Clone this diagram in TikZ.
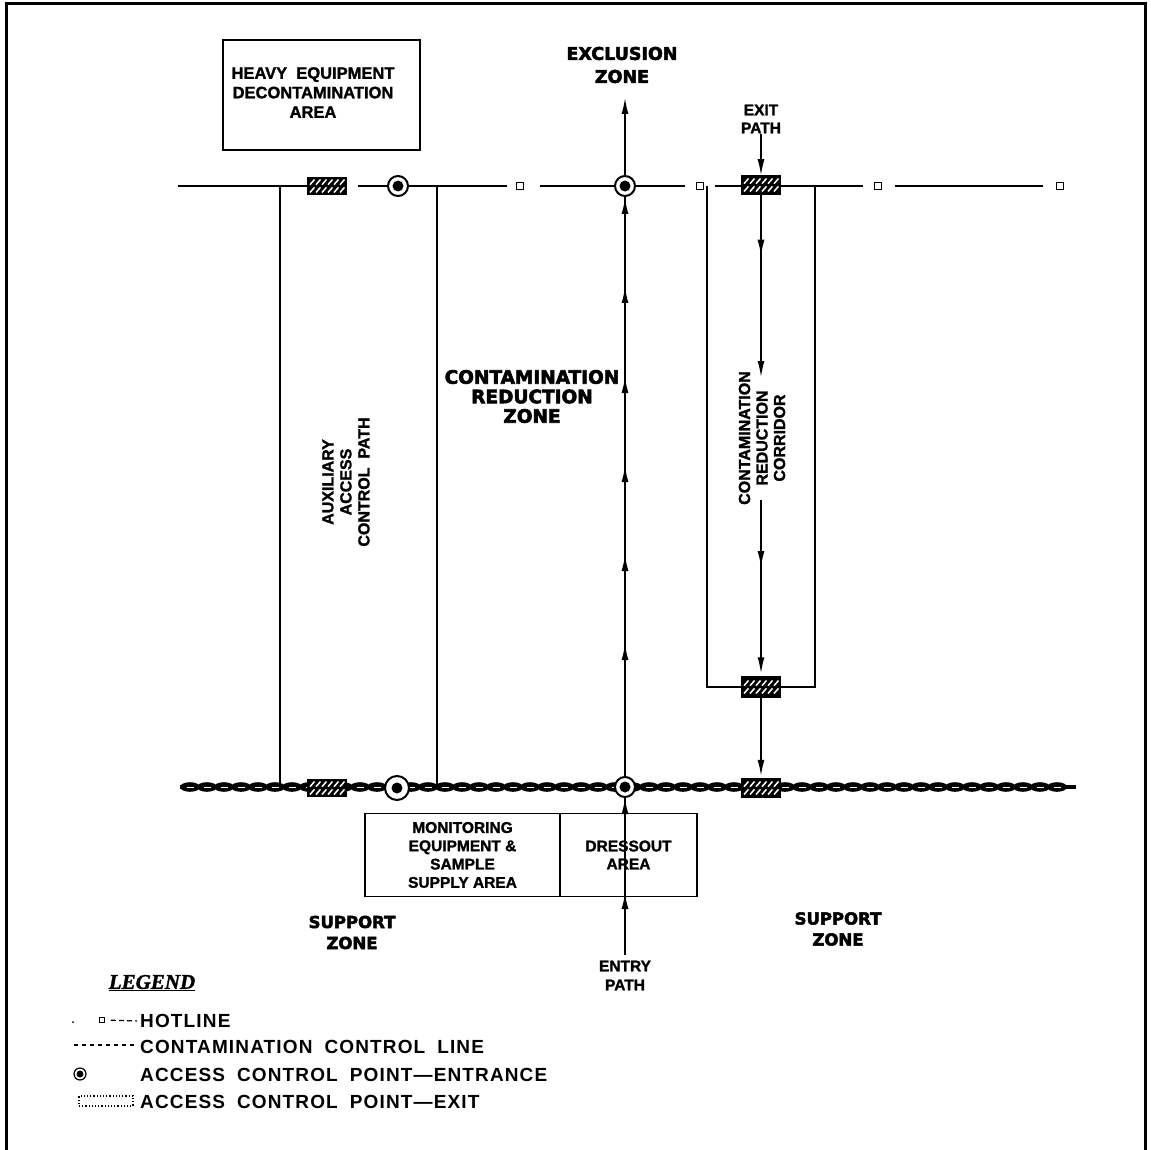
\documentclass[tikz,border=0pt]{standalone}
\usepackage{fontspec}
\setmainfont{Liberation Sans}[BoldFeatures={FakeBold=1.5}]
\newfontfamily\heavyfont{DejaVu Sans}[BoldFeatures={FakeBold=3}]
\newfontfamily\legfont{Liberation Sans}[LetterSpace=6]
\newfontfamily\titlefont{Liberation Serif}[BoldItalicFeatures={FakeBold=1.5}]
\usetikzlibrary{arrows.meta,decorations.markings}
\pgfdeclarelayer{bg}
\pgfsetlayers{bg,main}
\tikzset{
  lbl/.style={inner sep=0pt, align=center, font=\bfseries\fontsize{16}{19}\selectfont},
  hvy/.style={inner sep=0pt, align=center, font=\heavyfont\bfseries\fontsize{18.5}{19.5}\selectfont},
  leg/.style={inner sep=0pt, anchor=west, font=\legfont\bfseries\fontsize{19}{21}\selectfont},
  rect/.style={draw, line width=1.6pt},
  sq/.style={draw, line width=1.8pt, fill=white, minimum size=7pt, inner sep=0pt},
  acp/.style={circle, draw, line width=2pt, fill=white, minimum size=20pt, inner sep=0pt,
     path picture={\fill[black] (path picture bounding box.center) circle (5.5pt);}},
  acpsmall/.style={circle, draw, line width=1.2pt, fill=white, minimum size=12pt, inner sep=0pt,
     path picture={\fill[black] (path picture bounding box.center) circle (3.5pt);}},
  acx/.style={draw, line width=1.5pt, fill=black, minimum width=38pt, minimum height=17pt, inner sep=0pt,
     path picture={\begin{scope}[shift={(path picture bounding box.center)}]
        \foreach \i in {-17,-11,...,15}{\draw[white,line width=1.5pt] (\i,-1.3) -- ++(4.5,-5.2); \draw[white,line width=1.5pt] (\i,6.5) -- ++(4.5,-5.2);}
        \end{scope}}},
  hot/.style={line width=2.2pt},
  vline/.style={line width=1.4pt},
  arrowend/.style={-{Latex[length=16pt,width=7pt]}},
}
\begin{document}
\begin{tikzpicture}[x=1pt,y=-1pt]
\useasboundingbox (0,0) rectangle (1151,1150);
\draw[line width=3pt] (6,1150) -- (6,4) -- (1145,4) -- (1145,1150);

% boxes and labels
\node[rect, minimum width=197pt, minimum height=110pt] (hed) at (321.5,95) {};
\node[lbl, font=\bfseries\fontsize{16.5}{19.5}\selectfont] (hedt) at (313,92.5) {HEAVY\ \ EQUIPMENT\\DECONTAMINATION\\AREA};
\node[hvy, font=\heavyfont\bfseries\fontsize{17.5}{23}\selectfont] (excl) at (622,65) {EXCLUSION\\ZONE};
\node[lbl, font=\bfseries\fontsize{15.5}{18}\selectfont] (exit) at (761,119) {EXIT\\PATH};
\node[hvy] (crz) at (532,396.5) {CONTAMINATION\\REDUCTION\\ZONE};
\node[lbl, rotate=90, font=\bfseries\fontsize{16}{17.5}\selectfont] (corr) at (762,438) {CONTAMINATION\\REDUCTION\\CORRIDOR};
\node[lbl, rotate=90, font=\bfseries\fontsize{16}{18}\selectfont] (aux) at (346,482) {AUXILIARY\\ACCESS\\CONTROL\ \ PATH};
\node[rect, lbl, font=\bfseries\fontsize{15.5}{18.3}\selectfont, minimum width=195pt, minimum height=83pt] (mon) at (462.5,855) {MONITORING\\EQUIPMENT\ \&\\SAMPLE\\SUPPLY AREA};
\node[rect, lbl, font=\bfseries\fontsize{15.5}{18}\selectfont, minimum width=137pt, minimum height=83pt] (dress) at (628.5,855) {DRESSOUT\\AREA};
\node[hvy, font=\heavyfont\bfseries\fontsize{16.5}{21}\selectfont] (supL) at (352,932.5) {SUPPORT\\ZONE};
\node[hvy, font=\heavyfont\bfseries\fontsize{16.5}{21}\selectfont] (supR) at (838,929) {SUPPORT\\ZONE};
\node[lbl, font=\bfseries\fontsize{15.5}{19}\selectfont] (entry) at (625,975.5) {ENTRY\\PATH};

% hotline and control points
\node[acx] (x1) at (327,186) {};
\node[acp] (a1) at (398,186) {};
\node[sq] (s1) at (520,186) {};
\node[acp] (a2) at (625,186) {};
\node[sq] (s2) at (700,186) {};
\node[acx, minimum height=18pt] (x2) at (761,185) {};
\node[sq] (s3) at (878,186) {};
\node[sq] (s4) at (1060,186) {};
\node[acx, minimum height=20pt] (x3) at (761,687) {};
\node[acx, minimum height=19pt] (x4) at (761,788) {};
\node[acx] (x5) at (327,788) {};
\node[acp, minimum size=24pt] (a3) at (397,788) {};
\node[acp] (a4) at (625,787) {};

% legend
\node[inner sep=0pt, font=\titlefont\bfseries\itshape\fontsize{21}{23}\selectfont] (legt) at (152,983) {\underline{LEGEND}};
\node[leg] (l1) at (140,1021) {HOTLINE};
\node[leg] (l2) at (140,1047) {CONTAMINATION\hspace{12pt}CONTROL\hspace{12pt}LINE};
\node[leg] (l3) at (140,1075) {ACCESS\hspace{12pt}CONTROL\hspace{12pt}POINT—ENTRANCE};
\node[leg] (l4) at (140,1102) {ACCESS\hspace{12pt}CONTROL\hspace{12pt}POINT—EXIT};
\node[sq, minimum size=5pt, line width=1pt] (ls1) at (102,1020) {};
\node[acpsmall] (ls3) at (80,1074) {};
\node[draw, dotted, line width=1.2pt, minimum width=54pt, minimum height=10pt, inner sep=0pt] (ls4) at (106,1101) {};
\coordinate (ls2a) at (74,1045);
\coordinate (ls2b) at (134,1045);
\fill (73,1022) circle (1pt);
\draw[line width=1.2pt, shorten <=6pt, shorten >=3pt, dash pattern=on 5pt off 3pt] (ls1) -- (l1.west);
\draw[line width=2pt, dash pattern=on 4pt off 4pt] (ls2a) -- (ls2b);

\begin{pgfonlayer}{bg}
\coordinate (h0) at (178,186);
\draw[hot] (h0) -- (x1);
\draw[hot, shorten <=11pt, shorten >=9pt] (x1) -- (s1);
\draw[hot, shorten <=16pt, shorten >=11pt] (s1) -- (s2);
\draw[hot, shorten <=11pt, shorten >=11pt] (s2) -- (s3);
\draw[hot, shorten <=13pt, shorten >=13pt] (s3) -- (s4);
% auxiliary path
\coordinate (aLt) at (280,186); \coordinate (aLb) at (280,787);
\coordinate (aRt) at (437,186); \coordinate (aRb) at (437,787);
\draw[vline] (aLt) -- (aLb);
\draw[vline] (aRt) -- (aRb);
% corridor
\coordinate (cTL) at (707,186); \coordinate (cBL) at (707,687);
\coordinate (cBR) at (815,687); \coordinate (cTR) at (815,186);
\draw[vline] (cTL) -- (cBL) -- (cBR) -- (cTR);
\coordinate (cg1) at (761,377); \coordinate (cg2) at (761,500);
\draw[vline, arrowend, postaction={decorate}, decoration={markings,
   mark=at position 61pt with {\arrow{Latex[length=16pt,width=7pt]}}}] (x2) -- (cg1);
\draw[vline, arrowend, shorten >=3pt, postaction={decorate}, decoration={markings,
   mark=at position 67pt with {\arrow{Latex[length=16pt,width=7pt]}}}] (cg2) -- (x3);
\draw[vline, arrowend, shorten >=2pt] (x3) -- (x4);
\draw[vline, arrowend] (exit) -- (x2);
% main entry path
\coordinate (cbot) at (625,955); \coordinate (ctop) at (625,98);
\draw[vline, arrowend, postaction={decorate}, decoration={markings,
   mark=at position 62pt with {\arrow{Latex[length=16pt,width=7pt]}},
   mark=at position 157pt with {\arrow{Latex[length=16pt,width=7pt]}},
   mark=at position 311pt with {\arrow{Latex[length=16pt,width=7pt]}},
   mark=at position 400pt with {\arrow{Latex[length=16pt,width=7pt]}},
   mark=at position 489pt with {\arrow{Latex[length=16pt,width=7pt]}},
   mark=at position 578pt with {\arrow{Latex[length=16pt,width=7pt]}},
   mark=at position 668pt with {\arrow{Latex[length=16pt,width=7pt]}},
   mark=at position 757pt with {\arrow{Latex[length=16pt,width=7pt]}}}] (cbot) -- (ctop);
% contamination control line
\coordinate (cl0) at (180,787); \coordinate (cl1) at (1076,787);
\draw[line width=3.5pt] (cl0) -- (cl1);
\foreach \x in {190,207,...,1066} {
  \fill (\x,787) ellipse [x radius=10pt, y radius=4.8pt];
  \draw[white, line width=0.9pt] (\x-3.5,787) -- (\x+3.5,787);
}
\end{pgfonlayer}
\end{tikzpicture}
\end{document}
